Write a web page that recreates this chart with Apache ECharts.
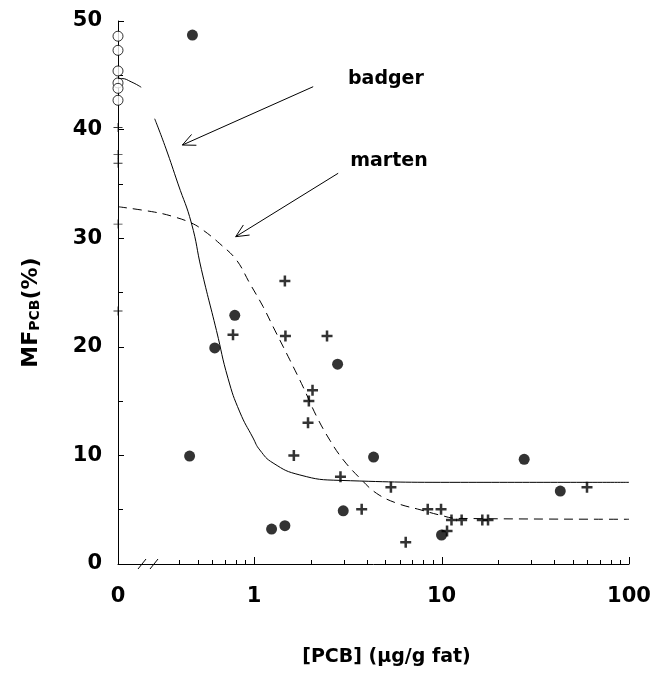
<!DOCTYPE html>
<html>
<head>
<meta charset="utf-8">
<script src="https://cdn.jsdelivr.net/npm/echarts@6.0.0/dist/echarts.min.js"></script>
<style>
html, body { margin: 0; padding: 0; background: #fff; }
#container { width: 652px; height: 673px; }
</style>
</head>
<body>
<div id="container"></div>
<script>
var dom = document.getElementById('container');
var myChart = echarts.init(dom, null, {
    renderer: 'canvas',
    useDirtyRect: false
});

// left end of the log axis stands for the value 0 (axis is broken after it)
var xZero = 0.188;
var xMax = 100;

// badger, filled circles
var badgerX = [0.469, 0.789, 0.617, 0.453, 2.79, 4.34, 2.99, 1.24, 1.46, 10.0, 27.6, 43.0];
var badgerY = [48.7, 22.9, 19.9, 9.94, 18.4, 9.85, 4.9, 3.22, 3.53, 2.67, 9.64, 6.72];
// badger at 0, open circles
var badgerZeroY = [48.6, 47.3, 45.4, 44.3, 43.8, 42.7];

// marten, crosses
var martenX = [1.46, 1.47, 2.45, 0.772, 2.05, 1.96, 1.94, 1.63, 2.89, 5.37, 3.75, 8.44, 9.94, 11.3, 12.8, 16.5, 17.7, 10.7, 6.44, 59.7];
var martenY = [26.06, 21.0, 21.0, 21.1, 16.0, 15.0, 13.0, 10.0, 8.04, 7.06, 5.04, 5.04, 5.04, 4.05, 4.05, 4.05, 4.05, 3.04, 2.0, 7.06];
var martenZeroY = [40.2, 37.7, 36.9, 31.3, 23.3];

// fitted curves (null = gap at the axis break)
var badgerFitX = [0, 0.196, 0.221, 0.250, null, 0.295, 0.338, 0.393, 0.463, 0.524, 0.630, 0.726, 0.839, 0.988, 1.073, 1.263, 1.754, 2.87, 12.6, 100];
var badgerFitY = [44.7, 44.7, 44.4, 43.9, null, 41.0, 38.3, 35.0, 31.4, 27.1, 21.5, 17.1, 14.0, 11.6, 10.5, 9.3, 8.2, 7.7, 7.52, 7.52];
var martenFitX = [0, 0.295, 0.369, 0.463, 0.534, 0.656, 0.805, 0.948, 1.117, 1.263, 1.551, 1.827, 2.154, 2.537, 2.988, 3.67, 4.507, 5.765, 7.676, 9.82, 12.06, 100];
var martenFitY = [32.9, 32.4, 32.0, 31.4, 30.75, 29.5, 28.0, 25.85, 23.7, 21.85, 18.8, 16.3, 13.6, 11.4, 9.6, 7.9, 6.5, 5.6, 5.0, 4.5, 4.2, 4.12];

var xLabelValues = [xZero, 1, 10, 100];
var xMajorTicks = [1, 10, 100];
var xMinorTicks = [0.4, 0.5, 0.6, 0.7, 0.8, 0.9, 2, 3, 4, 5, 6, 7, 8, 9, 20, 30, 40, 50, 60, 70, 80, 90];

// annotations: text, label position, arrow tail, arrow tip
var noteText = ['badger', 'marten'];
var notePos = [[5.05, 44.66], [5.24, 37.1]];
var arrowFrom = [[2.067, 43.95], [2.81, 35.98]];
var arrowTo = [[0.4146, 38.58], [0.798, 30.14]];

function pairs(xs, ys) {
    return xs.map(function (x, i) {
        if (x === null) return ['-', '-'];
        return [x === 0 ? xZero : x, ys[i]];
    });
}
function zeros(ys) {
    return ys.map(function (y) { return [xZero, y]; });
}

var FONT = 'DejaVu Sans';
var plusPath = 'path://M3.85,0H6.15V3.85H10V6.15H6.15V10H3.85V6.15H0V3.85H3.85Z';
var thinPlusPath = 'path://M4.5,0H5.5V4.5H10V5.5H5.5V10H4.5V5.5H0V4.5H4.5Z';

var option = {
    animation: false,
    backgroundColor: '#fff',
    grid: {
        left: 118, right: 23, top: 21, bottom: 109,
        containLabel: false, outerBoundsMode: 'none'
    },
    xAxis: {
        type: 'log',
        logBase: 10,
        min: xZero,
        max: xMax,
        position: 'bottom',
        name: '[PCB] (µg/g fat)',
        nameLocation: 'middle',
        nameGap: 84,
        nameTextStyle: {
            fontFamily: FONT, fontWeight: 'bold', fontSize: 19, color: '#000',
            padding: [0, 0, 0, 26]
        },
        axisLine: { show: true, lineStyle: { color: '#000', width: 1 } },
        axisTick: { show: false },
        axisLabel: {
            customValues: xLabelValues,
            margin: 22,
            fontFamily: FONT, fontWeight: 'bold', fontSize: 21, color: '#000',
            formatter: function (v) { return v < 0.5 ? '0' : String(Math.round(v)); }
        },
        splitLine: { show: false }
    },
    yAxis: {
        type: 'value',
        min: 0,
        max: 50,
        interval: 10,
        name: '{a|MF}{b|PCB}{a|(%)}',
        nameLocation: 'middle',
        nameGap: 76,
        nameTextStyle: {
            padding: [0, 40, 0, 0],
            rich: {
                a: { fontFamily: FONT, fontWeight: 'bold', fontSize: 22, color: '#000' },
                b: { fontFamily: FONT, fontWeight: 'bold', fontSize: 14, color: '#000', verticalAlign: 'bottom' }
            }
        },
        axisLine: { show: true, onZero: false, lineStyle: { color: '#000', width: 1 } },
        axisTick: { show: true, inside: true, length: 6, lineStyle: { color: '#000' } },
        minorTick: { show: true, splitNumber: 2, length: 5, lineStyle: { color: '#000' } },
        axisLabel: {
            margin: 16,
            fontFamily: FONT, fontWeight: 'bold', fontSize: 21, color: '#000'
        },
        splitLine: { show: false }
    },
    series: [{
        name: 'badger fit',
        type: 'line',
        data: pairs(badgerFitX, badgerFitY),
        showSymbol: false,
        smooth: 0.5,
        connectNulls: false,
        lineStyle: { color: '#000', width: 1 },
        silent: true
    }, {
        name: 'marten fit',
        type: 'line',
        data: pairs(martenFitX, martenFitY),
        showSymbol: false,
        smooth: 0.4,
        lineStyle: { color: '#000', width: 1, type: [9, 6] },
        silent: true
    }, {
        name: 'badger',
        type: 'scatter',
        data: pairs(badgerX, badgerY),
        symbol: 'circle',
        symbolSize: 11,
        itemStyle: { color: '#000' }
    }, {
        name: 'badger 0',
        type: 'scatter',
        data: zeros(badgerZeroY),
        symbol: 'circle',
        symbolSize: 10,
        itemStyle: { color: '#fff', borderColor: '#000', borderWidth: 1 }
    }, {
        name: 'marten',
        type: 'scatter',
        data: pairs(martenX, martenY),
        symbol: plusPath,
        symbolSize: 11,
        itemStyle: { color: '#000' }
    }, {
        name: 'marten 0',
        type: 'scatter',
        data: zeros(martenZeroY),
        symbol: thinPlusPath,
        symbolSize: 9,
        itemStyle: { color: '#000' }
    }]
};

myChart.setOption(option);

// x ticks, arrows, labels and the axis break marks
var finder = { xAxisIndex: 0, yAxisIndex: 0 };
var graphics = [];

function seg(x1, y1, x2, y2) {
    return {
        type: 'line',
        shape: { x1: x1, y1: y1, x2: x2, y2: y2 },
        style: { stroke: '#000', lineWidth: 1 },
        z: 10
    };
}

function addTicks(values, len) {
    values.forEach(function (v) {
        var p = myChart.convertToPixel(finder, [v, 0]);
        var x = Math.round(p[0]) + 0.5;
        graphics.push(seg(x, p[1], x, p[1] - len));
    });
}
addTicks(xMinorTicks, 4);
addTicks(xMajorTicks, 7);

function arrowParts(p0, p1) {
    var ang = Math.atan2(p0[1] - p1[1], p0[0] - p1[0]);
    var len = 14, spread = 25 * Math.PI / 180;
    var parts = [seg(p0[0], p0[1], p1[0], p1[1])];
    [-spread, spread].forEach(function (d) {
        parts.push(seg(p1[0], p1[1],
            p1[0] + len * Math.cos(ang + d),
            p1[1] + len * Math.sin(ang + d)));
    });
    return parts;
}

noteText.forEach(function (t, i) {
    var pos = myChart.convertToPixel(finder, notePos[i]);
    graphics.push({
        type: 'text',
        x: pos[0], y: pos[1],
        style: {
            text: t, fill: '#000',
            font: 'bold 19px "DejaVu Sans"',
            align: 'center', verticalAlign: 'middle'
        }
    });
    var a = myChart.convertToPixel(finder, arrowFrom[i]);
    var b = myChart.convertToPixel(finder, arrowTo[i]);
    graphics = graphics.concat(arrowParts(a, b));
});

var origin = myChart.convertToPixel(finder, [xZero, 0]);
[20, 32].forEach(function (dx) {
    graphics.push(seg(origin[0] + dx, origin[1] + 5, origin[0] + dx + 8, origin[1] - 5));
});

myChart.setOption({ graphic: graphics });
</script>
</body>
</html>
